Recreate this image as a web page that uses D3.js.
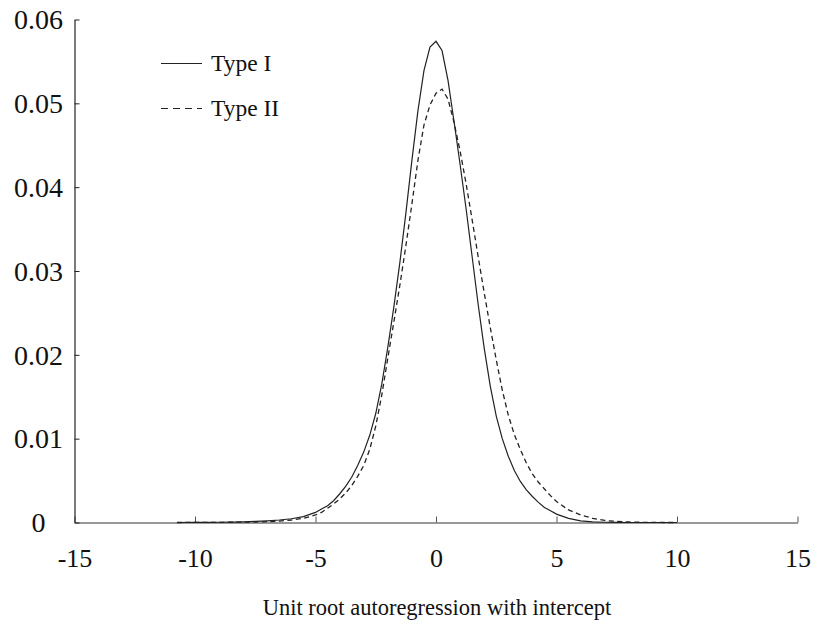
<!DOCTYPE html>
<html>
<head>
<meta charset="utf-8">
<script src="https://cdn.jsdelivr.net/npm/d3@7"></script>
<style>
  html, body { margin: 0; padding: 0; background: #fff; }
  svg { display: block; }
  text { font-family: "Liberation Serif", "Times New Roman", serif; fill: #111; }
</style>
</head>
<body>
<svg id="chart" width="825" height="639"></svg>
<script>
// ---- data ----
const xValues = [-10.75, -10, -9.5, -9, -8.5, -8, -7.5, -7, -6.5, -6, -5.5, -5,
  -4.75, -4.5, -4.25, -4, -3.75, -3.5, -3.25, -3, -2.75, -2.5, -2.25, -2,
  -1.75, -1.5, -1.25, -1, -0.75, -0.5, -0.25, 0, 0.25, 0.5, 0.75, 1,
  1.25, 1.5, 1.75, 2, 2.25, 2.5, 2.75, 3, 3.25, 3.5, 3.75, 4,
  4.25, 4.5, 4.75, 5, 5.5, 6, 6.5, 7, 7.5, 8, 8.5, 9, 9.5, 10];

const typeI = [0, 0.00001, 0.00002, 0.00003, 0.00005, 0.00008, 0.00013, 0.0002, 0.0003, 0.00045, 0.0007, 0.0012,
  0.0016, 0.0020, 0.0026, 0.0034, 0.0043, 0.0054, 0.0068, 0.0084, 0.0104, 0.0130, 0.0165, 0.0209,
  0.0257, 0.0310, 0.0369, 0.0432, 0.0491, 0.0539, 0.0567, 0.0574, 0.0563, 0.0527, 0.0478, 0.0427,
  0.0374, 0.0317, 0.0260, 0.0208, 0.0163, 0.0127, 0.0100, 0.0079, 0.0062, 0.0049, 0.0039, 0.0031,
  0.0024, 0.0018, 0.0014, 0.0010, 0.0005, 0.0002, 0.00007, 0.00003, 0.00001, 0, 0, 0, 0, 0];

const typeII = [0, 0.00001, 0.00001, 0.00002, 0.00003, 0.00004, 0.00006, 0.0001, 0.00017, 0.0003, 0.0005, 0.0009,
  0.0012, 0.0017, 0.0022, 0.0028, 0.0035, 0.0044, 0.0055, 0.0068, 0.0087, 0.0115, 0.0152, 0.0196,
  0.0239, 0.0283, 0.0330, 0.0380, 0.0432, 0.0474, 0.0498, 0.0512, 0.0517, 0.0505, 0.0477, 0.0443,
  0.0404, 0.0361, 0.0317, 0.0274, 0.0233, 0.0194, 0.0158, 0.0128, 0.0105, 0.0087, 0.0071, 0.0058,
  0.0048, 0.0040, 0.0032, 0.0025, 0.0015, 0.0009, 0.0005, 0.00025, 0.00012, 0.00006, 0.00003, 0.00001, 0, 0];

const xTicks = [-15, -10, -5, 0, 5, 10, 15];
const yTicks = [0, 0.01, 0.02, 0.03, 0.04, 0.05, 0.06];
const seriesNames = ["Type I", "Type II"];
const xTitle = "Unit root autoregression with intercept";

// ---- layout ----
const svg = d3.select("#chart");
const mLeft = 74.5, mRight = 797.5, mTop = 19.5, mBottom = 522.5;

const x = d3.scaleLinear().domain([-15, 15]).range([mLeft, mRight]);
const y = d3.scaleLinear().domain([0, 0.06]).range([mBottom, mTop]);

// axes
const xAxis = d3.axisBottom(x).tickValues(xTicks).tickSizeInner(-6).tickSizeOuter(0)
  .tickFormat(d => d);
const gx = svg.append("g").attr("transform", `translate(0,${mBottom})`).call(xAxis);
gx.select(".domain").attr("stroke", "#777").attr("stroke-width", 1.3);
gx.selectAll(".tick line").attr("stroke", "#555").attr("stroke-width", 1);
gx.selectAll(".tick text").attr("font-size", 26).attr("dy", 0).attr("y", 44)
  .attr("font-family", "Liberation Serif").attr("fill", "#111")
  .text(d => (d < 0 ? "-" + Math.abs(d) : d));

const yAxis = d3.axisLeft(y).tickValues(yTicks).tickSizeInner(-5).tickSizeOuter(0)
  .tickFormat(d => d === 0 ? "0" : d3.format(".2f")(d));
const gy = svg.append("g").attr("transform", `translate(${mLeft},0)`).call(yAxis);
gy.select(".domain").attr("stroke", "#222").attr("stroke-width", 1.2);
gy.selectAll(".tick line").attr("stroke", "#222").attr("stroke-width", 1);
gy.selectAll(".tick text").attr("font-size", 28).attr("x", -36).attr("dy", "0.33em")
  .attr("text-anchor", "middle")
  .attr("font-family", "Liberation Serif").attr("fill", "#111");

// lines
const pts1 = xValues.map((v, i) => [v, typeI[i]]);
const pts2 = xValues.map((v, i) => [v, typeII[i]]);
const line = d3.line().x(d => x(d[0])).y(d => y(d[1])).curve(d3.curveLinear);

svg.append("path").datum(pts2).attr("d", line)
  .attr("fill", "none").attr("stroke", "#222").attr("stroke-width", 1.3)
  .attr("stroke-dasharray", "5,3.5");
svg.append("path").datum(pts1).attr("d", line)
  .attr("fill", "none").attr("stroke", "#222").attr("stroke-width", 1.2);

// legend
const legend = svg.append("g");
const legY = [63.5, 108.5];
seriesNames.forEach((name, i) => {
  legend.append("line").attr("x1", 161).attr("x2", 202).attr("y1", legY[i]).attr("y2", legY[i])
    .attr("stroke", "#222").attr("stroke-width", 1.2)
    .attr("stroke-dasharray", i === 1 ? "7,5" : null);
  legend.append("text").attr("x", 211).attr("y", legY[i]).attr("dy", "0.33em")
    .attr("font-size", 23.5).text(name);
});

// x title
svg.append("text").attr("x", 437).attr("y", 615).attr("text-anchor", "middle")
  .attr("font-size", 22.5).text(xTitle);
</script>
</body>
</html>
